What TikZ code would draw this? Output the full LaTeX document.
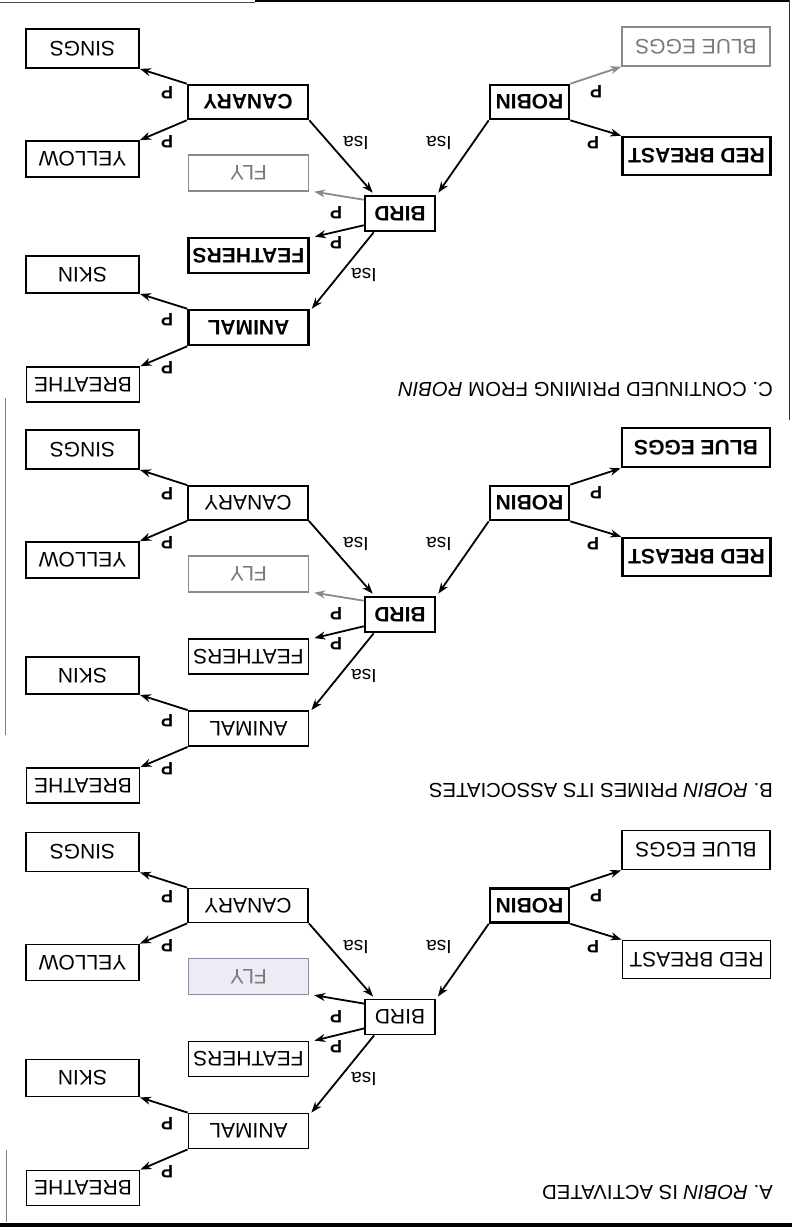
\documentclass[tikz,border=0pt]{standalone}
\usepackage{fontspec}
\setmainfont{Liberation Sans}
\usepackage{graphicx}
\usetikzlibrary{arrows.meta,calc}
\definecolor{greyline}{HTML}{8A8A8A}
\definecolor{greytext}{HTML}{7A7A7A}
\definecolor{flyfill}{HTML}{ECEDF4}
\definecolor{flyline}{HTML}{8C90A4}
\newcommand{\updn}[1]{\rotatebox[origin=c]{180}{#1}}
\tikzset{
  box/.style={draw=black, line width=1.8pt, inner sep=0pt, text=black,
    font=\fontsize{21}{21}\selectfont},
  boldbox/.style={box, line width=2.6pt, font=\fontsize{21}{21}\selectfont\bfseries},
  greybox/.style={box, draw=greyline, text=greytext, line width=1.4pt},
  flyboxA/.style={box, fill=flyfill, draw=flyline, text=greytext, line width=1.4pt},
  link/.style={draw=black, line width=1.8pt, -{Stealth[length=11pt,width=8pt]}},
  greylink/.style={link, draw=greyline, -{Stealth[length=11pt,width=8pt,fill=greyline]}},
  isalabel/.style={font=\fontsize{19}{19}\selectfont, inner sep=0pt},
  plabel/.style={font=\fontsize{18}{18}\selectfont\bfseries, inner sep=0pt},
  caption/.style={font=\fontsize{20.3}{20.3}\selectfont, inner sep=0pt, anchor=east},
  sSings/.style={box}, sYellow/.style={box}, sSkin/.style={box}, sBreathe/.style={box},
  sCanary/.style={box}, sFly/.style={greybox}, sFeathers/.style={box}, sAnimal/.style={box},
  sBird/.style={box}, sRobin/.style={boldbox}, sEggs/.style={box}, sBreast/.style={box},
  aFly/.style={greylink}, aEggs/.style={link}
}
\newcommand{\Panel}[3]{%
\begin{scope}[yshift=-#1pt]
  \node[sSings, minimum width=113pt, minimum height=39pt] (#2sings) at (82.5,48.5) {\updn{SINGS}};
  \node[sYellow, minimum width=113pt, minimum height=36pt] (#2yellow) at (82.5,159) {\updn{YELLOW}};
  \node[sSkin, minimum width=113pt, minimum height=37pt] (#2skin) at (82.5,274.5) {\updn{SKIN}};
  \node[sBreathe, minimum width=113pt, minimum height=35pt] (#2breathe) at (83,384.5) {\updn{BREATHE}};
  \node[sCanary, minimum width=120pt, minimum height=34pt] (#2canary) at (248,102) {\updn{CANARY}};
  \node[sFly, minimum width=120pt, minimum height=36pt] (#2fly) at (248.5,173) {\updn{FLY}};
  \node[sFeathers, minimum width=120pt, minimum height=35pt] (#2feathers) at (248.5,255.5) {\updn{FEATHERS}};
  \node[sAnimal, minimum width=120pt, minimum height=35pt] (#2animal) at (248.5,327.5) {\updn{ANIMAL}};
  \node[sBird, minimum width=70pt, minimum height=35pt] (#2bird) at (400,213.5) {\updn{BIRD}};
  \node[sRobin, minimum width=79pt, minimum height=34pt] (#2robin) at (529.5,102) {\updn{ROBIN}};
  \node[sEggs, minimum width=148pt, minimum height=39pt] (#2eggs) at (696,46.5) {\updn{BLUE EGGS}};
  \node[sBreast, minimum width=148pt, minimum height=38pt] (#2breast) at (696.5,156) {\updn{RED BREAST}};
  \draw[link] (#2canary.north west) -- (#2sings.south east);
  \draw[link] (#2canary.south west) -- (#2yellow.north east);
  \draw[link] (#2canary.south east) -- ([xshift=9pt,yshift=2pt]#2bird.north west);
  \draw[link] (#2robin.south west) -- ([xshift=2pt,yshift=2pt]#2bird.north east);
  \draw[aFly] ([yshift=-5pt]#2bird.north west) -- ([xshift=5pt]#2fly.south east);
  \draw[link] ([yshift=7pt]#2bird.south west) -- ([xshift=5pt]#2feathers.north east);
  \draw[link] ([xshift=10pt]#2bird.south west) -- ([xshift=2pt]#2animal.north east);
  \draw[link] (#2animal.north west) -- (#2skin.south east);
  \draw[link] (#2animal.south west) -- (#2breathe.north east);
  \draw[aEggs] (#2robin.north east) -- (#2eggs.south west);
  \draw[link] (#2robin.south east) -- (#2breast.north west);
  \node[isalabel] (#2isaA) at (356,143) {\updn{Isa}};
  \node[isalabel] (#2isaB) at (439,143) {\updn{Isa}};
  \node[isalabel] (#2isaC) at (364,275) {\updn{Isa}};
  \node[plabel] (#2pA) at (167,93) {\updn{P}};
  \node[plabel] (#2pB) at (167,142) {\updn{P}};
  \node[plabel] (#2pC) at (336,213) {\updn{P}};
  \node[plabel] (#2pD) at (336,243) {\updn{P}};
  \node[plabel] (#2pE) at (167,320) {\updn{P}};
  \node[plabel] (#2pF) at (167,368) {\updn{P}};
  \node[plabel] (#2pG) at (596,92) {\updn{P}};
  \node[plabel] (#2pH) at (593,143) {\updn{P}};
  \node[caption] (#2cap) at (773,389) {\updn{#3}};
\end{scope}}
\begin{document}
\begin{tikzpicture}[x=1pt,y=-1pt]
\useasboundingbox[fill=white] (0,0) rectangle (792,1231);
% frame remnants
\draw[line width=1pt, black!70] (0,3) -- (255,3);
\draw[line width=2pt] (255,1.5) -- (790,1.5);
\draw[line width=1pt, black!80] (789.5,0) -- (789.5,420);
\draw[line width=0.8pt, black!50] (5,398) -- (5,735);
\draw[line width=0.8pt, black!50] (6,1150) -- (6,1222);
\draw[line width=4.5pt] (0,1225) -- (792,1225);
% C
\begin{scope}[sBird/.style={boldbox}, sCanary/.style={boldbox}, sAnimal/.style={boldbox},
  sFeathers/.style={boldbox}, sBreast/.style={boldbox}, sEggs/.style={greybox}, aEggs/.style={greylink}]
\Panel{0}{c}{C. CONTINUED PRIMING FROM \textit{ROBIN}}
\end{scope}
% B
\begin{scope}[sBird/.style={boldbox}, sBreast/.style={boldbox}, sEggs/.style={boldbox}]
\Panel{401}{b}{B. \textit{ROBIN} PRIMES ITS ASSOCIATES}
\end{scope}
% A
\begin{scope}[sFly/.style={flyboxA}, aFly/.style={link}]
\Panel{803.5}{a}{A. \textit{ROBIN} IS ACTIVATED}
\end{scope}
\end{tikzpicture}
\end{document}
